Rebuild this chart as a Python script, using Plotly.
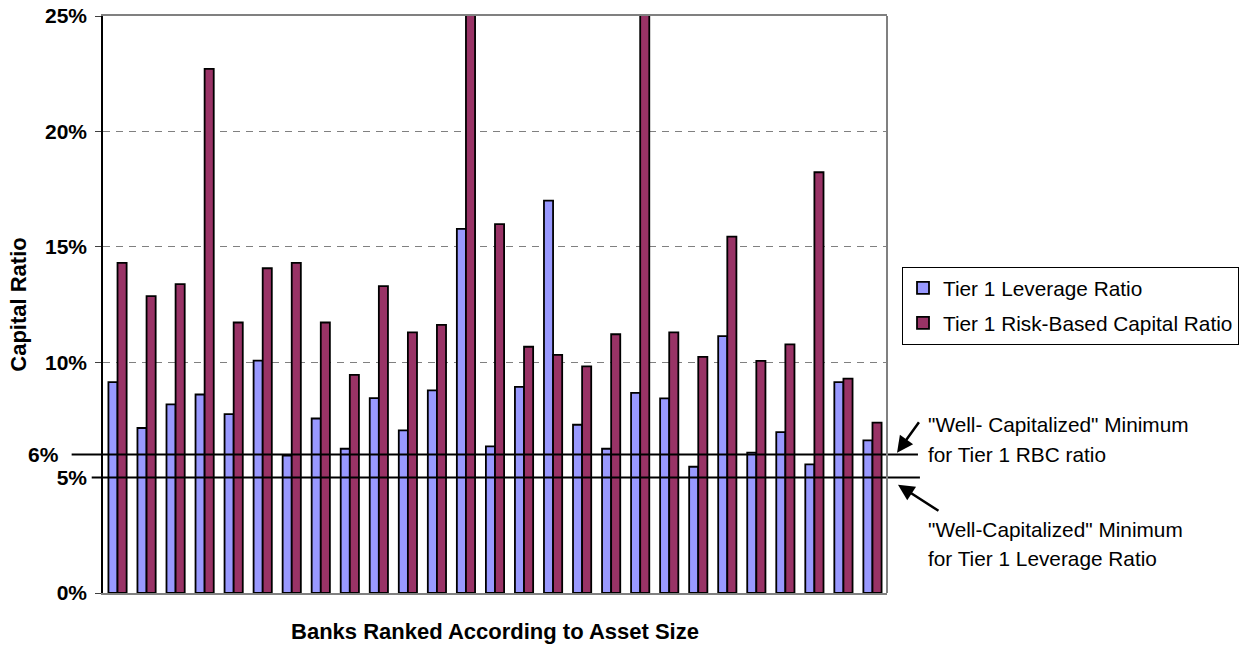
import plotly.graph_objects as go

# Banks ranked by asset size (largest first)
banks = [f"Bank {i}" for i in range(1, 28)]

# Tier 1 leverage ratio (%)
leverage = [9.14, 7.15, 8.17, 8.60, 7.75, 10.07, 5.95, 7.56, 6.25, 8.44,
            7.05, 8.78, 15.78, 6.35, 8.93, 17.00, 7.29, 6.25, 8.67, 8.43,
            5.47, 11.13, 6.08, 6.97, 5.57, 9.14, 6.61]

# Tier 1 risk-based capital ratio (%); two banks run off the top of the scale
rbc = [14.30, 12.86, 13.38, 22.71, 11.72, 14.07, 14.30, 11.72, 9.45, 13.30,
       11.29, 11.62, 26.50, 15.98, 10.67, 10.32, 9.82, 11.21, 27.50, 11.29,
       10.23, 15.44, 10.06, 10.77, 18.23, 9.29, 7.38]

# Regulatory "well-capitalized" thresholds (%)
rbc_minimum = 6
leverage_minimum = 5

y_ticks = [0, 5, 10, 15, 20, 25]

FONT = "Liberation Sans, Arial, sans-serif"

fig = go.Figure()
fig.add_trace(go.Bar(
    x=banks, y=leverage, name="Tier 1 Leverage Ratio",
    marker=dict(color="#9999FF", line=dict(color="black", width=1.8)),
    legendgroup="lev",
))
fig.add_trace(go.Bar(
    x=banks, y=rbc, name="Tier 1 Risk-Based Capital Ratio",
    marker=dict(color="#993366", line=dict(color="black", width=1.8)),
    legendgroup="rbc",
))

# threshold lines reaching past the plot edges
fig.add_shape(type="line", xref="paper", yref="y", x0=-0.040, x1=1.0395,
              y0=rbc_minimum, y1=rbc_minimum, line=dict(color="black", width=2), layer="above")
fig.add_shape(type="line", xref="paper", yref="y", x0=-0.0144, x1=1.042,
              y0=leverage_minimum, y1=leverage_minimum, line=dict(color="black", width=2), layer="above")
# right border of the plot frame
fig.add_shape(type="line", xref="paper", yref="paper", x0=1, x1=1, y0=0, y1=1,
              line=dict(color="#808080", width=2), layer="above")

annotations = [
    dict(text="6%", xref="paper", yref="y", x=-0.054, y=rbc_minimum, xanchor="right",
         yanchor="middle", showarrow=False, font=dict(family=FONT, size=21, color="black", weight="bold")),
    # arrows pointing at the threshold lines
    dict(text="", xref="paper", yref="y", x=1.0128, y=6.08, ax=23, ay=-32, showarrow=True,
         arrowhead=2, arrowsize=1.3, arrowwidth=2.5, arrowcolor="black"),
    dict(text="", xref="paper", yref="y", x=1.0140, y=4.69, ax=42, ay=27, showarrow=True,
         arrowhead=2, arrowsize=1.3, arrowwidth=2.5, arrowcolor="black"),
]
note_lines = [
    ("\"Well- Capitalized\" Minimum", 425),
    ("for Tier 1 RBC ratio", 455),
    ("\"Well-Capitalized\" Minimum", 530),
    ("for Tier 1 Leverage Ratio", 559),
]
for txt, ypix in note_lines:
    annotations.append(dict(
        text=txt, xref="paper", yref="paper", x=(926 - 103.3) / 783.7,
        y=(593.3 - ypix) / 577.3, xanchor="left", yanchor="middle", showarrow=False,
        font=dict(family=FONT, size=20.8, color="black"),
    ))

fig.update_layout(
    width=1251, height=647,
    margin=dict(l=103, r=364, t=16, b=54, autoexpand=False),
    paper_bgcolor="white", plot_bgcolor="white",
    barmode="group", bargap=0.373, bargroupgap=0,
    font=dict(family=FONT, color="black"),
    showlegend=True,
    legend=dict(
        x=(902 - 103.3) / 783.7, xanchor="left",
        y=(593.3 - 267) / 577.3, yanchor="top",
        bordercolor="black", borderwidth=1, bgcolor="white",
        font=dict(family=FONT, size=20.8, color="black"),
        traceorder="grouped", tracegroupgap=5,
    ),
    annotations=annotations,
    xaxis=dict(
        automargin=False,
        showticklabels=False, ticks="", showgrid=False, zeroline=False,
        showline=True, linecolor="#808080", linewidth=2, mirror=True,
        title=dict(text="Banks Ranked According to Asset Size", standoff=30,
                   font=dict(family=FONT, size=22, color="black", weight="bold")),
    ),
    yaxis=dict(
        automargin=False,
        range=[0, 25], tickvals=y_ticks, ticktext=[f"{v}%" for v in y_ticks],
        ticks="outside", ticklen=6, tickcolor="#404040", tickwidth=1,
        ticklabelstandoff=4,
        tickfont=dict(family=FONT, size=21, color="black", weight="bold"),
        showgrid=True, gridcolor="#808080", gridwidth=1, griddash="7px,6px",
        zeroline=False, showline=True, linecolor="black", linewidth=1.5,
        title=dict(text="Capital Ratio", standoff=12,
                   font=dict(family=FONT, size=22, color="black", weight="bold")),
    ),
)

fig.write_html("out.html")
